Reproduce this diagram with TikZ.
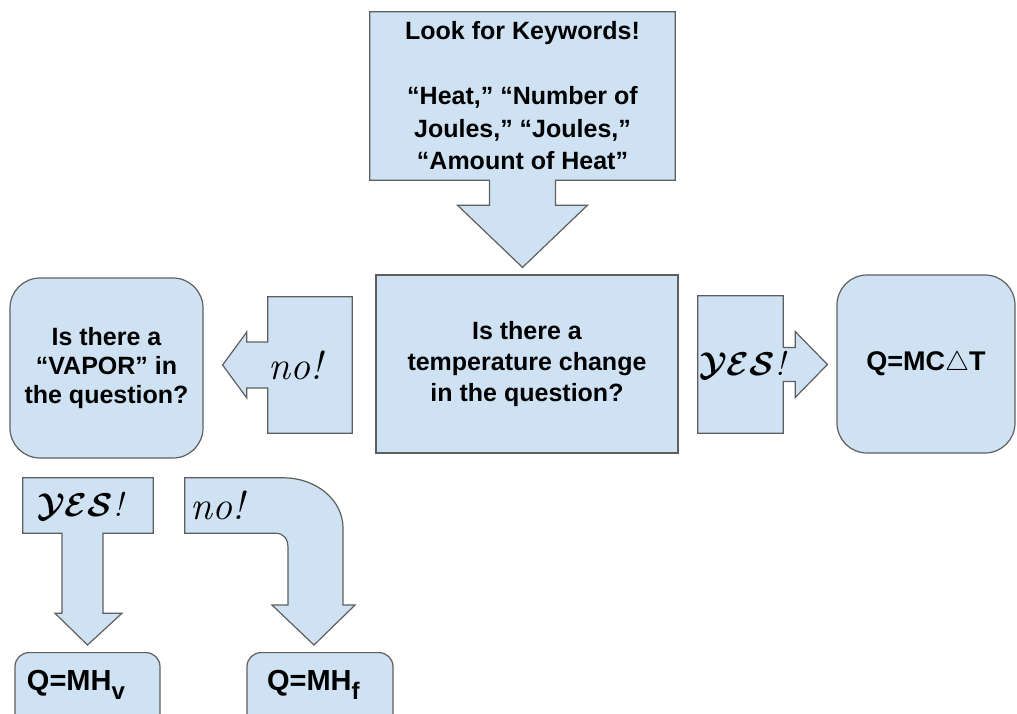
\documentclass[tikz,border=0pt]{standalone}
\usepackage{fix-cm}
\usepackage{fontspec}
\setsansfont{Liberation Sans}
\usetikzlibrary{calc, backgrounds}
\definecolor{paleblue}{HTML}{CFE2F3}
\definecolor{edgegray}{HTML}{5E5E5E}
\newcommand{\dtxt}{\sffamily\bfseries\fontsize{25}{31}\selectfont}
\newcommand{\ftxt}{\sffamily\bfseries\fontsize{27}{31}\selectfont}
\newcommand{\htxt}{\sffamily\bfseries\fontsize{29}{31}\selectfont}
\newcommand{\hand}{\rmfamily\itshape\fontsize{40}{40}\selectfont}
\newcommand{\yes}{{\fontsize{33}{33}\selectfont\boldmath$\mathcal{YES}$\rmfamily\itshape\fontsize{34}{34}\selectfont!}}
\tikzstyle{box}=[rectangle, align=center, fill=paleblue, draw=edgegray, line width=1.2pt, font=\dtxt]
\tikzstyle{rbox}=[box, rounded corners=30pt]
\tikzstyle{calltext}=[rectangle, align=left, inner ysep=0pt]
\tikzstyle{callout}=[fill=paleblue, draw=edgegray, line width=1.2pt, line join=miter]

\begin{document}
\begin{tikzpicture}[x=1pt, y=-1pt]
    \useasboundingbox (0,0) rectangle (1017,713);

    \node [box, minimum width=302pt, minimum height=178pt] (temp) at (527,364) {Is there a\\temperature change\\in the question?};
    \node [rbox, minimum width=193pt, minimum height=180pt, font=\sffamily\bfseries\fontsize{25}{29}\selectfont] (vapor) at (106.5,368) {Is there a\\“VAPOR” in\\the question?};
    \node [rbox, minimum width=178pt, minimum height=178pt, font=\ftxt] (mct) at (926,364) {Q=MC$\triangle$T};
    \node [rbox, rounded corners=14pt, minimum width=145pt, text width=121pt, align=left, inner xsep=12pt, text height=20pt, text depth=60pt, inner ysep=18pt, anchor=north, font=\htxt] (mhv) at (87.5,652) {Q=MH\raisebox{-9pt}{\fontsize{24}{24}\selectfont v}};
    \node [rbox, rounded corners=14pt, minimum width=146pt, text width=106pt, align=left, inner xsep=20pt, text height=20pt, text depth=60pt, inner ysep=18pt, anchor=north, font=\htxt] (mhf) at (320,652) {Q=MH\raisebox{-9pt}{\fontsize{24}{24}\selectfont f}};

    % callouts: text first, outline behind
    \node [calltext, align=center, inner xsep=0pt, minimum width=305pt, minimum height=168pt, font=\sffamily\bfseries\fontsize{25}{32.5}\selectfont] (keywords) at (522.5,96) {Look for Keywords!\\[32.5pt]“Heat,” “Number of\\Joules,” “Joules,”\\“Amount of Heat”};
    \node [calltext, inner xsep=0pt, text width=84pt, minimum height=136pt, font=\hand] (noleft) at (310,365) {no!};
    \node [calltext, inner xsep=1pt, text width=83pt, minimum height=137pt] (yesright) at (740.5,364.5) {\yes};
    \node [calltext, inner xsep=14pt, text width=102pt, minimum height=55pt] (yesdown) at (88,505.5) {\yes};
    \node [calltext, inner xsep=5pt, text width=80pt, minimum height=55pt, font=\hand] (nobent) at (230,505.5) {no!};
    \coordinate (bendtip) at ($(mhf.north)+(-6,-7)$);

    \begin{scope}[on background layer]
    \draw [callout] (keywords.north west) -- (keywords.north east) -- (keywords.south east)
        -- ($(keywords.south)+(33,0)$) -- ++(0,25) -- ++(32,0) -- ($(keywords.south |- temp.north)+(0,-7)$)
        -- ($(keywords.south)+(-65,25)$) -- ++(32,0) -- ($(keywords.south)+(-33,0)$) -- (keywords.south west) -- cycle;
    \draw [callout] (noleft.north west) -- (noleft.north east) -- (noleft.south east) -- (noleft.south west)
        -- ($(noleft.west)+(0,23)$) -- ++(-21,0) -- ++(0,10) -- ($(vapor.east |- noleft.west)+(19,0)$)
        -- ($(noleft.west)+(-21,-33)$) -- ++(0,10) -- ($(noleft.west)+(0,-23)$) -- cycle;
    \draw [callout] (yesright.north east) -- (yesright.north west) -- (yesright.south west) -- (yesright.south east)
        -- ($(yesright.east)+(0,17)$) -- ++(12,0) -- ++(0,16) -- ($(mct.west |- yesright.east)+(-9,0)$)
        -- ($(yesright.east)+(12,-33)$) -- ++(0,16) -- ($(yesright.east)+(0,-17)$) -- cycle;
    \draw [callout] (yesdown.south west) -- (yesdown.north west) -- (yesdown.north east) -- (yesdown.south east)
        -- ($(yesdown.south)+(15,0)$) -- ++(0,80) -- ++(19,0) -- ($(mhv.north)+(0,-7)$)
        -- ($(yesdown.south)+(-33,80)$) -- ++(7,0) -- ($(yesdown.south)+(-26,0)$) -- cycle;
    \draw [callout] (nobent.south west) -- (nobent.north west) -- ($(nobent.north east)+(8,0)$)
        .. controls +(33,0) and +(0,-28) .. ($(bendtip)+(29,-117)$) -- ($(bendtip)+(29,-40)$) -- ++(12,0)
        -- (bendtip) -- ($(bendtip)+(-42,-40)$) -- ++(16,0) -- ($(bendtip)+(-26,-97)$)
        .. controls +(0,-9) and +(9,0) .. (nobent.south east) -- cycle;
    \end{scope}
\end{tikzpicture}
\end{document}
